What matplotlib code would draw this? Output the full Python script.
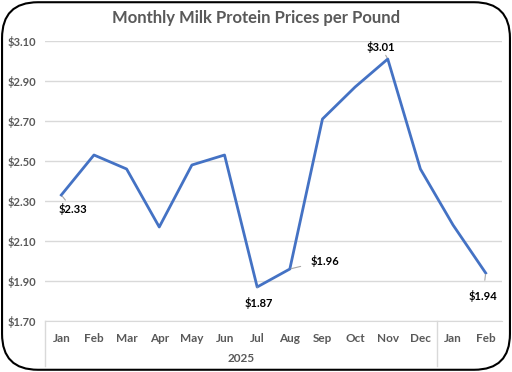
import matplotlib
matplotlib.use("Agg")
import matplotlib.pyplot as plt
from matplotlib.patches import FancyBboxPatch
import matplotlib.transforms as mtransforms

plt.rcParams['font.family'] = ['Lato', 'DejaVu Sans']

months = ["Jan", "Feb", "Mar", "Apr", "May", "Jun", "Jul", "Aug", "Sep", "Oct", "Nov", "Dec", "Jan", "Feb"]
prices = [2.33, 2.53, 2.46, 2.17, 2.48, 2.53, 1.87, 1.96, 2.71, 2.87, 3.01, 2.46, 2.18, 1.94]
yticks = [1.70, 1.90, 2.10, 2.30, 2.50, 2.70, 2.90, 3.10]
year_label = "2025"
# index of labelled points and label offsets (points)
labelled = {0: (8, -10), 10: (-5, 9), 6: (1.5, -11.5), 7: (25, 6), 13: (-2, -16.5)}

gray = "#595959"
blue = "#4472C4"

fig = plt.figure(figsize=(5.12, 3.72), dpi=100)
fig.patch.set_facecolor("white")

# rounded frame
frame = FancyBboxPatch((0.004, 0.006), 0.992, 0.988, boxstyle="round,pad=0,rounding_size=0.07",
                       transform=fig.transFigure, facecolor="white", edgecolor="black",
                       linewidth=1.5, mutation_aspect=512 / 372, zorder=-5)
fig.patches.append(frame)

ax = fig.add_axes([45 / 512, 1 - 321 / 372, 457 / 512, 280 / 372])
ax.set_facecolor("none")
x = list(range(len(months)))
ax.plot(x, prices, color=blue, linewidth=2)

ax.set_xlim(-0.5, len(months) - 0.5)
ax.set_ylim(1.70, 3.10)
ax.set_yticks(yticks)
ax.set_yticklabels(["${:.2f}".format(v) for v in yticks], color=gray, fontsize=8, fontweight="bold")
ax.set_xticks(x)
ax.set_xticklabels(months, color=gray, fontsize=8.5, fontweight="bold")
ax.tick_params(axis="both", length=0)
ax.tick_params(axis="y", pad=6.5)
ax.tick_params(axis="x", pad=9)
ax.grid(axis="y", color="#d9d9d9", linewidth=1)
ax.set_axisbelow(True)
for s in ["top", "right", "left"]:
    ax.spines[s].set_visible(False)
ax.spines["bottom"].set_color("#d9d9d9")

# category group separators
trans = mtransforms.blended_transform_factory(ax.transData, ax.transAxes)
for xs in [-0.5, 11.5]:
    ax.plot([xs, xs], [0, -0.16], color="#d9d9d9", linewidth=1, transform=trans, clip_on=False)
ax.text(5.5, -0.134, year_label, transform=trans, ha="center", va="center",
        color=gray, fontsize=8.5, fontweight="bold")

# data labels
for i, off in labelled.items():
    ax.annotate("${:.2f}".format(prices[i]), xy=(i, prices[i]), xytext=off,
                textcoords="offset points", ha="center", va="center", fontsize=8,
                fontweight="bold", color="black",
                arrowprops=dict(arrowstyle="-", color="#a6a6a6", lw=0.8, shrinkA=5, shrinkB=1))

fig.text(0.5, 1 - 17.5 / 372, "Monthly Milk Protein Prices per Pound", ha="center", va="center",
         fontsize=12, fontweight="bold", color=gray)

fig.savefig("out.png", dpi=100)
